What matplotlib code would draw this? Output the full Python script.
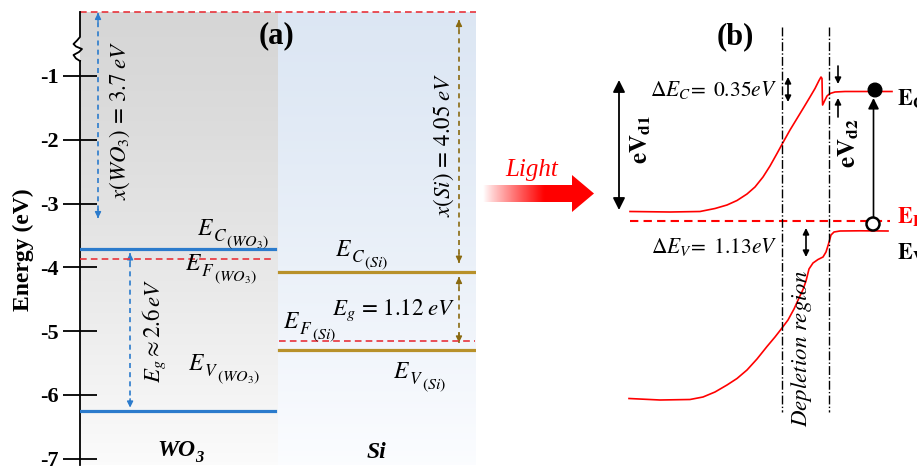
import numpy as np
import matplotlib
matplotlib.use('Agg')
import matplotlib.pyplot as plt
from matplotlib.patches import Polygon, Circle

plt.rcParams['font.family'] = ['Liberation Serif', 'DejaVu Serif']
plt.rcParams['mathtext.fontset'] = 'stix'
plt.rcParams['axes.unicode_minus'] = False

# ---------------- data: panel (a) ----------------
energy_ticks = [-1, -2, -3, -4, -5, -6, -7]
energy_tick_labels = ['-1', '-2', '-3', '-4', '-5', '-6', '-7']
vacuum_level = 0.0
wo3_ec = -3.72
wo3_ef = -3.87
wo3_ev = -6.26
si_ec = -4.08
si_ef = -5.16
si_ev = -5.30
wo3_chi_arrow = [-0.01, -3.23]
wo3_eg_arrow = [-3.78, -6.20]
si_chi_arrow = [-0.12, -3.93]
si_eg_arrow = [-4.15, -5.18]

# ---------------- data: panel (b) (schematic) ----------------
cb_pos = [630, 670, 700, 715, 727, 737, 747, 755, 763, 770, 777, 783, 790, 797,
          804, 810, 815, 819, 821, 822, 822.3, 822.6, 824.5, 827, 830, 835, 845, 892]
cb_energy = [211.5, 212, 211.5, 208.5, 205, 200.5, 194, 187, 177, 166, 153.5, 142.5,
             130, 118.5, 107, 97, 88.5, 80.5, 77, 78.5, 95, 105, 101, 96, 93.5, 92,
             91.5, 91.5]
vb_pos = [629, 660, 690, 703, 715, 727, 737, 747, 757, 767, 775, 782, 788, 794, 799,
          803, 806, 809, 813, 818, 823, 826, 828.5, 831, 834, 840, 860, 888]
vb_energy = [398.5, 400, 399.5, 397, 392, 385, 378.5, 370, 359, 346.5, 337, 328, 320,
             309, 298, 289.5, 281, 269, 263, 259.5, 257, 252, 244, 235, 232, 231,
             230.8, 231]
fermi_b = 221
boundaries_b = [781.7, 829]

blue = '#2b7bcc'
gold = '#b8912a'
red_d = '#e8333b'

fig = plt.figure(figsize=(9.17, 4.66), dpi=100)
W, H = 917, 466

# ---------------- panel (a) ----------------
ax = fig.add_axes([80 / W, 1 / H, 396 / W, (465 - 12.2) / H])

top_gray = np.array([0.84, 0.84, 0.84])
bot_gray = np.array([0.985, 0.985, 0.985])
top_blue = np.array([0.865, 0.905, 0.955])
bot_blue = np.array([0.985, 0.99, 1.0])
t = np.linspace(0, 1, 200)[:, None]
gray_img = (top_gray * (1 - t**1.3) + bot_gray * t**1.3)[:, None, :]
blue_img = (top_blue * (1 - t**1.3) + bot_blue * t**1.3)[:, None, :]
ax.imshow(gray_img, extent=[0, 1, -7.1, 0], aspect='auto', zorder=0, origin='upper')
ax.imshow(blue_img, extent=[1, 2, -7.1, 0], aspect='auto', zorder=0, origin='upper')
ax.set_xlim(0, 2)
ax.set_ylim(-7.1, 0)

ax.plot([0, 2], [vacuum_level, vacuum_level], color=red_d, lw=1.2, ls=(0, (4, 2.5)), clip_on=False, zorder=3)
ax.plot([0, 0.985], [wo3_ec, wo3_ec], color=blue, lw=2.3, zorder=3)
ax.plot([0, 0.985], [wo3_ev, wo3_ev], color=blue, lw=2.3, zorder=3)
ax.plot([0, 0.985], [wo3_ef, wo3_ef], color=red_d, lw=1.2, ls=(0, (4, 2.5)), zorder=4)
ax.plot([1.005, 1.995], [si_ec, si_ec], color=gold, lw=2.3, zorder=3)
ax.plot([1.005, 1.995], [si_ev, si_ev], color=gold, lw=2.3, zorder=3)
ax.plot([1.005, 1.995], [si_ef, si_ef], color=red_d, lw=1.2, ls=(0, (4, 2.5)), zorder=4)


def dashed_arrow(x, y0, y1, color):
    ax.plot([x, x], [y0, y1], color=color, lw=1.2, ls=(0, (3, 2.5)), zorder=5, clip_on=False)
    d = 0.14 if y0 > y1 else -0.14
    for yy, dd in ((y0, -d), (y1, d)):
        ax.annotate('', xy=(x, yy), xytext=(x, yy + dd),
                    arrowprops=dict(arrowstyle='-|>', color=color, lw=1.0, mutation_scale=9,
                                    shrinkA=0, shrinkB=0), annotation_clip=False)


dashed_arrow(0.091, wo3_chi_arrow[0], wo3_chi_arrow[1], blue)
dashed_arrow(0.253, wo3_eg_arrow[0], wo3_eg_arrow[1], blue)
dashed_arrow(1.914, si_chi_arrow[0], si_chi_arrow[1], '#8a6a10')
dashed_arrow(1.914, si_eg_arrow[0], si_eg_arrow[1], '#8a6a10')

ax.set_yticks(energy_ticks)
ax.set_yticklabels(energy_tick_labels, fontweight='bold', fontsize=16)
ax.tick_params(axis='y', direction='inout', length=24, width=1.3, pad=3.5, colors='black')
ax.set_xticks([])
for s in ['top', 'right', 'bottom']:
    ax.spines[s].set_visible(False)
ax.spines['left'].set_linewidth(1.3)
ax.spines['left'].set_bounds(-7.1, -0.765)

# ---------------- overlay (pixel coordinates) ----------------
ov = fig.add_axes([0, 0, 1, 1])
ov.axis('off')
ov.patch.set_alpha(0)

# axis break squiggle
sq_x = [80, 80, 77, 73.5, 76, 82, 79, 73.5, 76, 80]
sq_y = [12, 37, 40.5, 44, 46.5, 49, 52, 55, 58.5, 61]
ov.plot(sq_x, sq_y, color='black', lw=1.3, solid_joinstyle='round')

ov.text(23, 250, 'Energy (eV)', rotation=90, ha='center', va='center', fontsize=17, fontweight='bold')
ov.text(277, 36, '(a)', ha='center', va='center', fontsize=22, fontweight='bold')

ms = 16.5
ov.text(120, 120, r'$x(WO_3)\,=\,3.7\;eV$', rotation=90, ha='center', va='center', fontsize=ms)
ov.text(154, 331, r'$E_g\approx 2.6\,eV$', rotation=90, ha='center', va='center', fontsize=ms)
ov.text(444, 145, r'$x(Si)\,=\,4.05\;eV$', rotation=90, ha='center', va='center', fontsize=ms)
ov.text(394, 310, r'$E_g\,=\,1.12\;eV$', ha='center', va='center', fontsize=ms)


def level_label(x_left, y_base, sub, subsub):
    t1 = ov.text(x_left, y_base, r'$E$', fontsize=17, ha='left', va='baseline')
    t2 = ov.annotate(r'$' + sub + '$', xy=(1, 0), xycoords=t1, xytext=(-0.8, -1.0),
                     textcoords='offset points', fontsize=12.5, ha='left', va='baseline')
    ov.annotate(r'$(' + subsub + ')$', xy=(1, 0), xycoords=t2, xytext=(-0.3, -0.6),
                textcoords='offset points', fontsize=11.5, ha='left', va='baseline')


level_label(197, 235, 'C', 'WO_3')
level_label(185, 270, 'F', 'WO_3')
level_label(188, 370, 'V', 'WO_3')
level_label(335, 256, 'C', 'Si')
level_label(283, 328, 'F', 'Si')
level_label(393, 378, 'V', 'Si')

t_wo = ov.text(157, 456, 'WO', fontsize=17, fontweight='bold', style='italic', ha='left', va='baseline')
ov.annotate('3', xy=(1, 0), xycoords=t_wo, xytext=(0.3, -0.5), textcoords='offset points',
            fontsize=12, fontweight='bold', style='italic', ha='left', va='baseline')
ov.text(367, 458, 'Si', fontsize=17, fontweight='bold', style='italic', ha='left', va='baseline')

# Light arrow with gradient
grad = np.zeros((1, 256, 4))
grad[..., 0] = 1.0
tt = np.linspace(0, 1, 256)
grad[0, :, 3] = np.clip(tt / 0.55, 0, 1) ** 0.9
im = ov.imshow(grad, extent=[483, 594, 212, 175], aspect='auto', zorder=3, interpolation='bilinear')
arrow_poly = Polygon([(483, 185), (572, 185), (572, 175), (594, 193.5), (572, 212),
                      (572, 202), (483, 202)], closed=True, facecolor='none',
                     edgecolor='none', transform=ov.transData)
ov.add_patch(arrow_poly)
im.set_clip_path(arrow_poly)
ov.text(532, 170, 'Light', color='red', fontsize=18, style='italic', ha='center', va='center')

# ---------------- panel (b) ----------------
ov.plot(cb_pos, cb_energy, color='red', lw=1.2)
ov.plot(vb_pos, vb_energy, color='red', lw=1.2)
ov.plot([630, 890], [fermi_b, fermi_b], color='red', lw=1.5, ls=(0, (4, 2.5)))
for bx in boundaries_b:
    ov.plot([bx, bx], [27, 412], color='black', lw=1.0, ls='-.')

ov.text(735, 37, '(b)', ha='center', va='center', fontsize=22, fontweight='bold')

ap = dict(arrowstyle='<|-|>', color='black', lw=1.3, mutation_scale=18, shrinkA=0, shrinkB=0)
ov.annotate('', xy=(619, 80), xytext=(619, 210), arrowprops=ap)
ov.text(641, 140, r'$\mathbf{eV_{d1}}$', rotation=90, ha='center', va='center', fontsize=18)

aps = dict(arrowstyle='<|-|>', color='black', lw=1.2, mutation_scale=9, shrinkA=0, shrinkB=0)
ov.annotate('', xy=(788, 77), xytext=(788, 102), arrowprops=aps)
ov.annotate('', xy=(806, 228), xytext=(806, 257), arrowprops=aps)
ov.text(777, 90, r'$\Delta E_C\!=\ 0.35eV$', ha='right', va='center', fontsize=15.5)
ov.text(777, 247, r'$\Delta E_V\!=\ 1.13eV$', ha='right', va='center', fontsize=15.5)

ap1 = dict(arrowstyle='-|>', color='black', lw=1.2, mutation_scale=9, shrinkA=0, shrinkB=0)
ov.annotate('', xy=(838, 84), xytext=(838, 66), arrowprops=ap1)
ov.annotate('', xy=(838, 98), xytext=(838, 117), arrowprops=ap1)
ov.text(849, 143, r'$\mathbf{eV_{d2}}$', rotation=90, ha='center', va='center', fontsize=18)

ov.text(802, 348, r'$Depletion\ region$', rotation=90, ha='center', va='center', fontsize=16.5)

ov.annotate('', xy=(873.5, 98), xytext=(873.5, 218),
            arrowprops=dict(arrowstyle='-|>', color='black', lw=1.2, mutation_scale=16,
                            shrinkA=0, shrinkB=0))
ov.add_patch(Circle((875, 90), 6.8, facecolor='black', edgecolor='black', zorder=5))
ov.add_patch(Circle((873, 224), 6.5, facecolor='white', edgecolor='black', lw=1.8, zorder=5))

ov.text(897, 99, r'$\mathbf{E_C}$', ha='left', va='center', fontsize=16)
ov.text(897, 217, r'$\mathbf{E_F}$', ha='left', va='center', fontsize=16, color='red')
ov.text(897, 253, r'$\mathbf{E_V}$', ha='left', va='center', fontsize=16)

ov.set_xlim(0, W)
ov.set_ylim(H, 0)

fig.savefig('out.png', dpi=100)
